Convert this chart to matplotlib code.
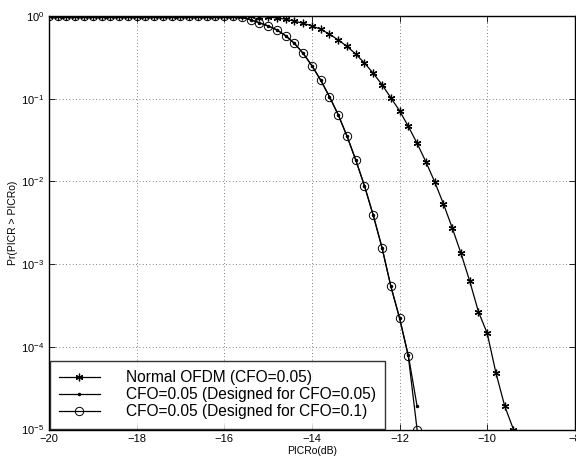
import numpy as np
import matplotlib
matplotlib.use("Agg")
import matplotlib.pyplot as plt

plt.rcParams["font.family"] = ["Liberation Sans", "DejaVu Sans"]
plt.rcParams["mathtext.fontset"] = "custom"
plt.rcParams["mathtext.rm"] = "Liberation Sans"

# PICRo grid (dB), 0.2 dB steps
x_normal = np.round(np.arange(-20.0, -9.4 + 0.01, 0.2), 1)
x_cfo = np.round(np.arange(-20.0, -11.6 + 0.01, 0.2), 1)

# Normal OFDM (CFO=0.05): flat at 1 until about -15.8 dB
normal_tail = [0.997, 0.993, 0.985, 0.972, 0.948, 0.916, 0.868, 0.815, 0.763,
               0.690, 0.606, 0.513, 0.430, 0.347, 0.270, 0.203, 0.148, 0.103,
               0.0716, 0.0463, 0.0289, 0.0173, 0.00993, 0.00538, 0.00276,
               0.00136, 0.000625, 0.000266, 0.000146, 4.82e-5, 1.92e-5, 1.0e-5]
normal = [1.0] * (len(x_normal) - len(normal_tail)) + normal_tail

# CFO=0.05, designed for CFO=0.1
cfo01_tail = [0.995, 0.975, 0.90, 0.83, 0.76, 0.68, 0.578, 0.468, 0.354, 0.251,
              0.168, 0.106, 0.0641, 0.0354, 0.0182, 0.00883, 0.00389, 0.00158,
              0.000543, 0.000223, 7.67e-5, 1.0e-5]
cfo01 = [1.0] * (len(x_cfo) - len(cfo01_tail)) + cfo01_tail

# CFO=0.05, designed for CFO=0.05
cfo005_tail = [0.995, 0.975, 0.90, 0.83, 0.76, 0.68, 0.578, 0.468, 0.354, 0.251,
               0.168, 0.106, 0.0641, 0.0354, 0.0182, 0.00883, 0.00389, 0.00158,
               0.000543, 0.000223, 7.9e-5, 1.92e-5]
cfo005 = [1.0] * (len(x_cfo) - len(cfo005_tail)) + cfo005_tail

labels = ["Normal OFDM (CFO=0.05)",
          "CFO=0.05 (Designed for CFO=0.05)",
          "CFO=0.05 (Designed for CFO=0.1)"]

fig = plt.figure(figsize=(5.76, 4.62), dpi=100)
ax = fig.add_axes([0.085, 0.0703, 0.913, 0.895])

ax.semilogy(x_normal, normal, color="black", linewidth=0.9,
            marker=(6, 2, 0), markersize=5.5, markeredgewidth=0.9,
            label=labels[0])
ax.semilogy(x_cfo, cfo005, color="black", linewidth=0.9,
            marker=".", markersize=3, label=labels[1])
ax.semilogy(x_cfo, cfo01, color="black", linewidth=0.9,
            marker="o", markersize=6, markerfacecolor="none",
            markeredgewidth=0.7, label=labels[2])

ax.set_xlim(-20, -8)
ax.set_ylim(1e-5, 1)
ax.set_xticks(np.arange(-20, -7, 2))
ax.set_yticks([1e-5, 1e-4, 1e-3, 1e-2, 1e-1, 1])
ax.yaxis.set_minor_locator(matplotlib.ticker.NullLocator())
ax.tick_params(axis="both", which="both", direction="in", length=4,
               labelsize=8, top=True, right=True, width=0.6)
ax.grid(True, which="major", linestyle=(0, (1, 3)), color="#555555",
        linewidth=0.6)
for sp in ax.spines.values():
    sp.set_linewidth(1.0)

ax.set_xlabel("PICRo(dB)", fontsize=7.5, labelpad=1)
ax.set_ylabel("Pr(PICR > PICRo)", fontsize=7.5, labelpad=2)

leg = ax.legend(loc="lower left", fontsize=11.2, frameon=True, fancybox=False,
                edgecolor="black", borderaxespad=0.05, handlelength=2.6,
                labelspacing=0.14, borderpad=0.6, handletextpad=1.7)
leg.get_frame().set_linewidth(1.0)

fig.savefig("out.png", dpi=100)
